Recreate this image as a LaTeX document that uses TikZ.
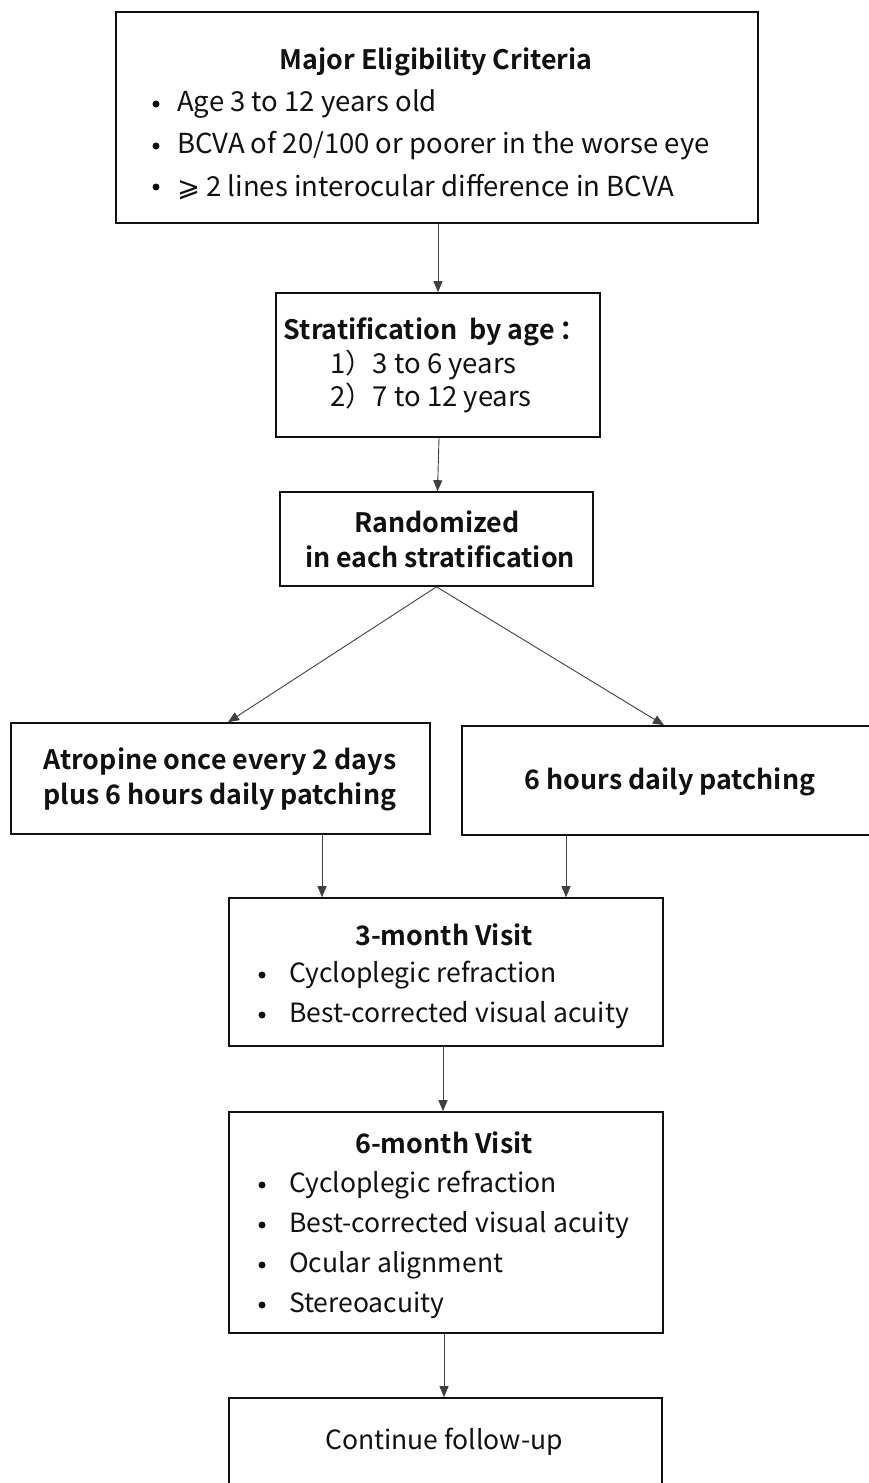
\documentclass[tikz,border=0pt]{standalone}
\usepackage{fontspec}
\setmainfont{Noto Sans CJK SC}[BoldFont={Noto Sans CJK SC Bold}]
\newfontfamily\symfont{DejaVu Sans}
\usetikzlibrary{arrows.meta,calc}
\definecolor{ink}{HTML}{111111}
\definecolor{arrc}{HTML}{404040}
\tikzset{
  box/.style={draw=ink, line width=1.6pt, rectangle, inner sep=0pt},
  arr/.style={draw=arrc, line width=0.9pt, -{Triangle[length=11pt,width=9pt]}},
  ttl/.style={font=\fontsize{26.8}{30}\selectfont\bfseries, text=ink, inner sep=0pt, anchor=center},
  txt/.style={font=\fontsize{26.5}{30}\selectfont, text=ink, inner sep=0pt, anchor=west},
  ttxt/.style={font=\fontsize{27.5}{30}\selectfont, text=ink, inner sep=0pt, anchor=west},
  ctr/.style={font=\fontsize{26.5}{30}\selectfont, text=ink, inner sep=0pt, anchor=center},
  dot/.style={circle, fill=ink, inner sep=0pt, minimum size=7pt},
}
\begin{document}
\begin{tikzpicture}[x=1pt,y=-1pt]
\useasboundingbox (0,0) rectangle (869,1483);
\clip (0,0) rectangle (869,1483);
% boxes
\node[box, minimum width=642pt, minimum height=211pt] (top) at (437,117.5) {};
\node[box, minimum width=324pt, minimum height=144pt] (strat) at (438,365) {};
\node[box, minimum width=313pt, minimum height=94pt] (rand) at (436.5,539) {};
\node[box, minimum width=419pt, minimum height=111pt] (left) at (220.5,778.5) {};
\node[box, minimum width=418pt, minimum height=109pt] (right) at (671,780.5) {};
\node[box, minimum width=434pt, minimum height=148pt] (m3) at (446,972) {};
\node[box, minimum width=434pt, minimum height=221pt] (m6) at (446,1222.5) {};
\node[box, minimum width=433pt, minimum height=160pt] (cont) at (445.5,1478) {};
% texts: top
\node[ttl] (t0) at (436,62) {Major Eligibility Criteria};
\node[dot] (b1) at (156,104) {};
\node[dot] (b2) at (156,146) {};
\node[dot] (b3) at (156,187) {};
\node[ttxt] (t1) at (177,104) {Age 3 to 12 years old};
\node[ttxt] (t2) at (177,146) {BCVA of 20/100 or poorer in the worse eye};
\node[ttxt] (t3) at (177,187) {{\symfont ⩾} 2 lines interocular difference in BCVA};
% strat
\node[ttl] (s0) at (435,332) {Stratification\ \ by age\,：};
\node[ttxt] (s1) at (330,365) {1）3 to 6 years};
\node[ttxt] (s2) at (330,398) {2）7 to 12 years};
% rand
\node[ttl] (r1) at (437,522) {Randomized};
\node[ttl] (r2) at (440,557) {in each stratification};
% arms
\node[ttl] (l1) at (220,762) {Atropine once every 2 days};
\node[ttl] (l2) at (220,797) {plus 6 hours daily patching};
\node[ttl] (rt) at (670,782) {6 hours daily patching};
% 3-month
\node[ttl] (m30) at (444,935) {3-month Visit};
\node[dot] (m3b1) at (262,975) {};
\node[dot] (m3b2) at (262,1015) {};
\node[txt] (m31) at (289,975) {Cycloplegic refraction};
\node[txt] (m32) at (289,1015) {Best-corrected visual acuity};
% 6-month
\node[ttl] (m60) at (444,1143) {6-month Visit};
\node[dot] (m6b1) at (262,1185) {};
\node[dot] (m6b2) at (262,1225) {};
\node[dot] (m6b3) at (262,1265) {};
\node[dot] (m6b4) at (262,1305) {};
\node[txt] (m61) at (289,1185) {Cycloplegic refraction};
\node[txt] (m62) at (289,1225) {Best-corrected visual acuity};
\node[txt] (m63) at (289,1265) {Ocular alignment};
\node[txt] (m64) at (289,1305) {Stereoacuity};
% continue
\node[ctr] (c1) at (444,1442) {Continue follow-up};
% connectors
\draw[arr] ([xshift=1pt]top.south) -- (strat.north);
\draw[arr] ([xshift=1pt]strat.south) -- ([xshift=1pt]rand.north);
\draw[arr] (rand.south) -- ([xshift=7.5pt]left.north);
\draw[arr] (rand.south) -- ([xshift=-7pt]right.north);
\draw[arr] ([xshift=101.5pt]left.south) -- ([xshift=-124pt]m3.north);
\draw[arr] ([xshift=-105pt]right.south) -- ([xshift=120pt]m3.north);
\draw[arr] ([xshift=-3pt]m3.south) -- ([xshift=-3pt]m6.north);
\draw[arr] ([xshift=-2pt]m6.south) -- ([xshift=-1.5pt]cont.north);
\end{tikzpicture}
\end{document}
